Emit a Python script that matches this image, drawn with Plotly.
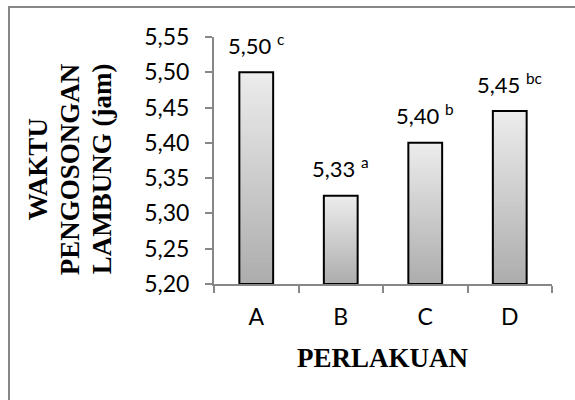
import plotly.graph_objects as go

# ---- data ----
categories = ["A", "B", "C", "D"]
values = [5.50, 5.325, 5.40, 5.445]
value_labels = ["5,50", "5,33", "5,40", "5,45"]
letters = ["c", "a", "b", "bc"]
y_tickvals = [5.20, 5.25, 5.30, 5.35, 5.40, 5.45, 5.50, 5.55]
y_ticktext = ["5,20", "5,25", "5,30", "5,35", "5,40", "5,45", "5,50", "5,55"]
y_title_lines = ["WAKTU", "PENGOSONGAN", "LAMBUNG (jam)"]
x_title = "PERLAKUAN"

AXIS_MIN, AXIS_MAX = 5.20, 5.55

# ---- style ----
TOP_RGB = (236, 236, 236)
BOT_RGB = (172, 172, 172)
N_STEPS = 40
tick_font = dict(family="Lato, Open Sans, sans-serif", size=23, color="#000000")
label_font = dict(family="Lato, Open Sans, sans-serif", size=22, color="#000000")
title_font = dict(family="Liberation Serif, Times New Roman, serif", size=27, color="#000000")

fig = go.Figure()

# gradient fill built from overlapping bars (shorter bars darker, drawn last)
for k in range(N_STEPS):
    frac = (N_STEPS - k) / N_STEPS
    t = frac
    r = int(BOT_RGB[0] + (TOP_RGB[0] - BOT_RGB[0]) * t)
    g = int(BOT_RGB[1] + (TOP_RGB[1] - BOT_RGB[1]) * t)
    b = int(BOT_RGB[2] + (TOP_RGB[2] - BOT_RGB[2]) * t)
    fig.add_trace(go.Bar(
        x=categories,
        y=[(v - AXIS_MIN) * frac for v in values],
        base=AXIS_MIN,
        marker=dict(color=f"rgb({r},{g},{b})", line=dict(width=0)),
        hoverinfo="skip",
        showlegend=False,
    ))

# outline bars
fig.add_trace(go.Bar(
    x=categories,
    y=[v - AXIS_MIN for v in values],
    base=AXIS_MIN,
    marker=dict(color="rgba(0,0,0,0)", line=dict(color="#000000", width=2)),
    showlegend=False,
))

# value labels with superscript letters
for c, v, lab, let in zip(categories, values, value_labels, letters):
    fig.add_annotation(
        x=c, y=v, xref="x", yref="y",
        text=f"{lab} <sup>{let}</sup>",
        showarrow=False, yanchor="middle", yshift=28,
        font=label_font,
    )

# y title lines (rotated)
y_line_x = [-0.52, -0.425, -0.333]
for txt, xp in zip(y_title_lines, y_line_x):
    fig.add_annotation(
        x=xp, y=0.466, xref="paper", yref="paper",
        text=f"<b>{txt}</b>", textangle=-90, showarrow=False,
        xanchor="center", yanchor="middle", font=title_font,
    )

# x title
fig.add_annotation(
    x=0.5, y=-0.298, xref="paper", yref="paper",
    text=f"<b>{x_title}</b>", showarrow=False,
    xanchor="center", yanchor="middle", font=title_font,
)

# outer border (left & top visible)
fig.add_shape(type="rect", xref="paper", yref="paper",
              x0=-0.6065, y0=-0.6, x1=1.2, y1=1.1215,
              line=dict(color="#878787", width=2), fillcolor="rgba(0,0,0,0)",
              layer="below")

fig.update_layout(
    width=575, height=400,
    margin=dict(l=214, r=23, t=37, b=116),
    paper_bgcolor="white", plot_bgcolor="white",
    barmode="overlay", bargap=0.6,
    showlegend=False,
    xaxis=dict(
        type="category", tickson="boundaries",
        showline=True, linecolor="#878787", linewidth=2,
        ticks="outside", ticklen=7, tickcolor="#878787", tickwidth=2,
        tickfont=tick_font, showgrid=False, zeroline=False,
        ticklabelstandoff=11,
        fixedrange=True,
    ),
    yaxis=dict(
        range=[AXIS_MIN, AXIS_MAX],
        tickvals=y_tickvals, ticktext=y_ticktext,
        showline=True, linecolor="#878787", linewidth=2,
        ticks="outside", ticklen=7, tickcolor="#878787", tickwidth=2,
        tickfont=tick_font, showgrid=False, zeroline=False,
        ticklabelstandoff=11,
        fixedrange=True,
    ),
)

fig.write_html("out.html", config={"displayModeBar": False},
               post_script="document.body.style.margin='0px';")
